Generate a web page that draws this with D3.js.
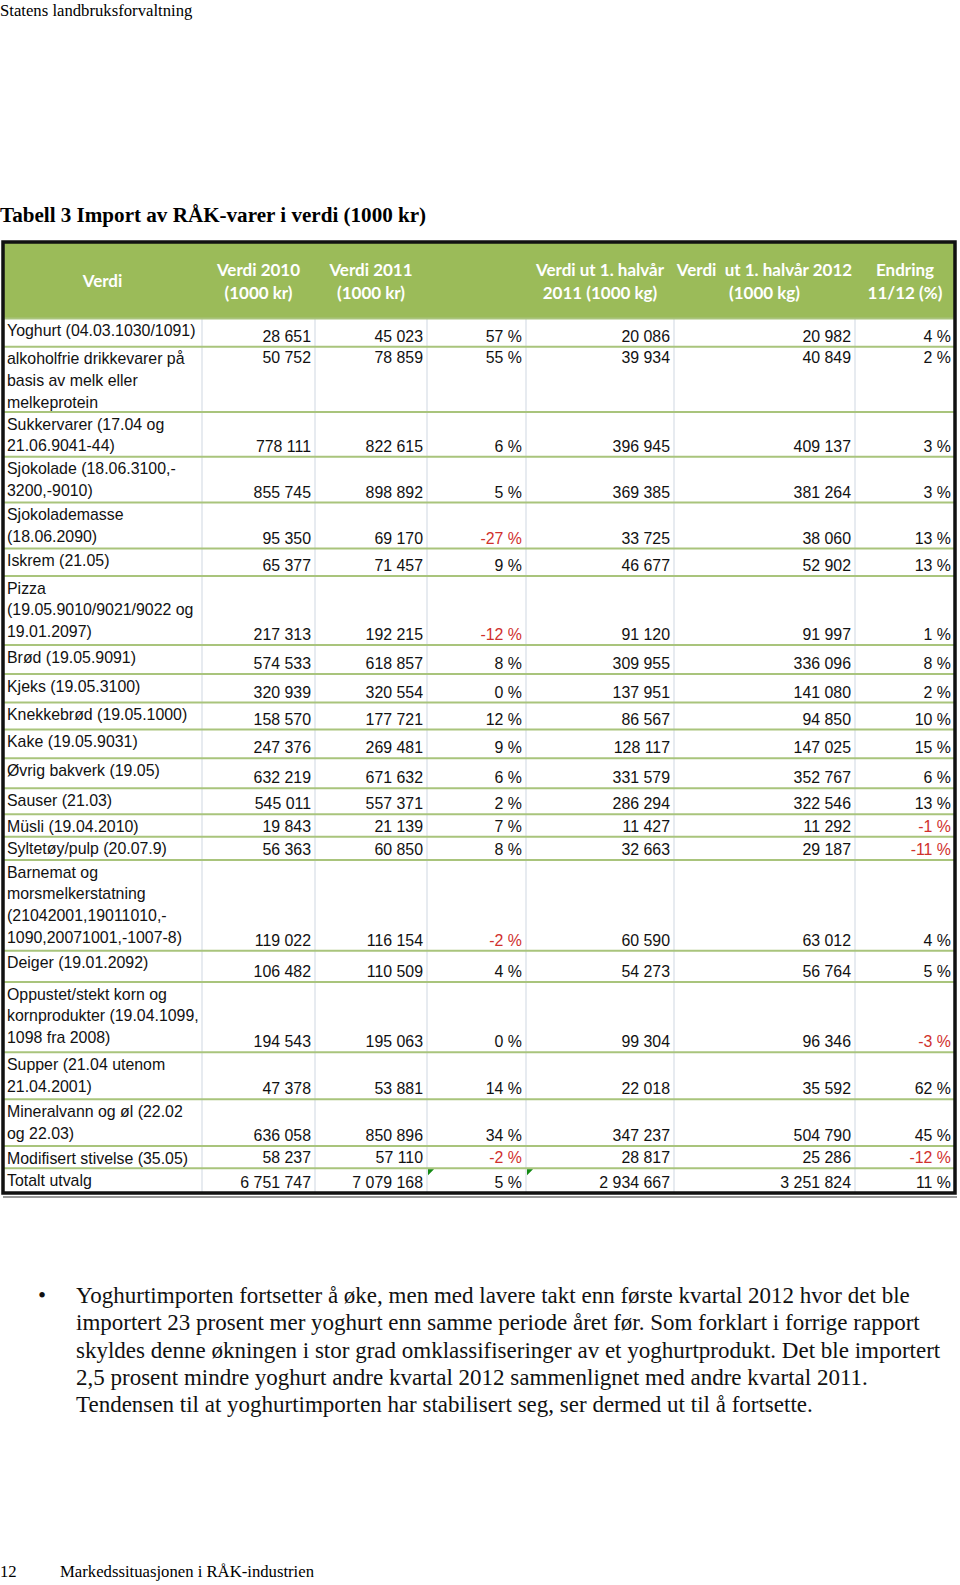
<!DOCTYPE html>
<html><head><meta charset="utf-8">
<script src="https://cdn.jsdelivr.net/npm/d3@7"></script>
<style>body{margin:0;background:#fff}svg{display:block}</style>
</head><body><script>
// ---------- DATA ----------
const pageHeader = "Statens landbruksforvaltning";
const title = "Tabell 3 Import av RÅK-varer i verdi (1000 kr)";
const headerLabels = [
  ["Verdi"],
  ["Verdi 2010", "(1000 kr)"],
  ["Verdi 2011", "(1000 kr)"],
  [],
  ["Verdi ut 1. halvår", "2011 (1000 kg)"],
  ["Verdi  ut 1. halvår 2012", "(1000 kg)"],
  ["Endring", "11/12 (%)"]
];
const categories = [
  ["Yoghurt (04.03.1030/1091)"],
  ["alkoholfrie drikkevarer på", "basis av melk eller", "melkeprotein"],
  ["Sukkervarer (17.04 og", "21.06.9041-44)"],
  ["Sjokolade (18.06.3100,-", "3200,-9010)"],
  ["Sjokolademasse", "(18.06.2090)"],
  ["Iskrem (21.05)"],
  ["Pizza", "(19.05.9010/9021/9022 og", "19.01.2097)"],
  ["Brød (19.05.9091)"],
  ["Kjeks (19.05.3100)"],
  ["Knekkebrød (19.05.1000)"],
  ["Kake (19.05.9031)"],
  ["Øvrig bakverk (19.05)"],
  ["Sauser (21.03)"],
  ["Müsli (19.04.2010)"],
  ["Syltetøy/pulp (20.07.9)"],
  ["Barnemat og", "morsmelkerstatning", "(21042001,19011010,-", "1090,20071001,-1007-8)"],
  ["Deiger (19.01.2092)"],
  ["Oppustet/stekt korn og", "kornprodukter (19.04.1099,", "1098 fra 2008)"],
  ["Supper (21.04 utenom", "21.04.2001)"],
  ["Mineralvann og øl (22.02", "og 22.03)"],
  ["Modifisert stivelse (35.05)"],
  ["Totalt utvalg"]
];
const verdi2010   = [28651, 50752, 778111, 855745, 95350, 65377, 217313, 574533, 320939, 158570, 247376, 632219, 545011, 19843, 56363, 119022, 106482, 194543, 47378, 636058, 58237, 6751747];
const verdi2011   = [45023, 78859, 822615, 898892, 69170, 71457, 192215, 618857, 320554, 177721, 269481, 671632, 557371, 21139, 60850, 116154, 110509, 195063, 53881, 850896, 57110, 7079168];
const endring1011 = [57, 55, 6, 5, -27, 9, -12, 8, 0, 12, 9, 6, 2, 7, 8, -2, 4, 0, 14, 34, -2, 5];
const halvaar2011 = [20086, 39934, 396945, 369385, 33725, 46677, 91120, 309955, 137951, 86567, 128117, 331579, 286294, 11427, 32663, 60590, 54273, 99304, 22018, 347237, 28817, 2934667];
const halvaar2012 = [20982, 40849, 409137, 381264, 38060, 52902, 91997, 336096, 141080, 94850, 147025, 352767, 322546, 11292, 29187, 63012, 56764, 96346, 35592, 504790, 25286, 3251824];
const endring1112 = [4, 2, 3, 3, 13, 13, 1, 8, 2, 10, 15, 6, 13, -1, -11, 4, 5, -3, 62, 45, -12, 11];
const paragraph = [
  "Yoghurtimporten fortsetter å øke, men med lavere takt enn første kvartal 2012 hvor det ble",
  "importert 23 prosent mer yoghurt enn samme periode året før. Som forklart i forrige rapport",
  "skyldes denne økningen i stor grad omklassifiseringer av et yoghurtprodukt. Det ble importert",
  "2,5 prosent mindre yoghurt andre kvartal 2012 sammenlignet med andre kvartal 2011.",
  "Tendensen til at yoghurtimporten har stabilisert seg, ser dermed ut til å fortsette."
];
const footerPage = "12";
const footerText = "Markedssituasjonen i RÅK-industrien";

// ---------- LAYOUT ----------
const W = 960, H = 1585;
const colKeys = ["label", "v2010", "v2011", "e1011", "h2011", "h2012", "e1112"];
const colEdges = [3, 202, 315, 427, 526, 674, 855, 955];
const rowHeights = [28.2, 65.3, 44.7, 45.8, 46, 27.5, 69, 29, 28.5, 27, 28.8, 30, 26, 22.4, 23.3, 90.7, 31.3, 70.3, 47, 46.7, 22.3, 24.7];
const tableTop = 243, headerBottom = 318.5;

const serif = "'Liberation Serif','Times New Roman',serif";
const sans = "'Liberation Sans',Arial,sans-serif";
const headFont = "Lato,'Open Sans',sans-serif";

const svg = d3.select("body").append("svg").attr("width", W).attr("height", H);
svg.append("rect").attr("width", W).attr("height", H).attr("fill", "#fff");

const xL = d3.scaleOrdinal().domain(colKeys).range(colEdges.slice(0, 7));
const xR = d3.scaleOrdinal().domain(colKeys).range(colEdges.slice(1));
const cum = Array.from(d3.cumsum([headerBottom, ...rowHeights]));
const yEdge = d3.scaleOrdinal().domain(d3.range(cum.length)).range(cum);
const tableBottom = yEdge(categories.length);

const nf = d3.formatLocale({decimal: ",", thousands: " ", grouping: [3], currency: ["", " kr"], minus: "-"}).format(",d");
const pf = v => nf(v) + " %";

// page header & title
svg.append("text").attr("x", 0).attr("y", 16).attr("font-family", serif).attr("font-size", 16.7).text(pageHeader);
svg.append("text").attr("x", 0).attr("y", 222).attr("font-family", serif).attr("font-weight", "bold").attr("font-size", 21.1).text(title);

// header background
svg.append("rect").attr("x", colEdges[0]).attr("y", tableTop).attr("width", colEdges[7] - colEdges[0]).attr("height", headerBottom - tableTop).attr("fill", "#9bbb59");

// header text
const hg = svg.append("g").attr("font-family", headFont).attr("font-weight", "bold").attr("font-size", 17).attr("fill", "#fff").attr("text-anchor", "middle");
headerLabels.forEach((lines, i) => {
  const k = colKeys[i];
  const cx = (xL(k) + xR(k)) / 2;
  const base = lines.length === 1 ? 287 : 276;
  lines.forEach((t, j) => {
    hg.append("text").attr("x", cx).attr("y", base + j * 22.5).attr("xml:space", "preserve").style("white-space", "pre").text(t);
  });
});

// vertical dividers
svg.append("g").selectAll("line").data(colKeys.slice(1)).join("line")
  .attr("x1", d => xL(d)).attr("x2", d => xL(d))
  .attr("y1", headerBottom).attr("y2", tableBottom)
  .attr("stroke", "#cfd7e1").attr("stroke-width", 1);

// horizontal row separators
svg.append("g").selectAll("line").data(d3.range(0, categories.length)).join("line")
  .attr("x1", colEdges[0]).attr("x2", colEdges[7])
  .attr("y1", d => yEdge(d)).attr("y2", d => yEdge(d))
  .attr("stroke", "#a9c47c").attr("stroke-width", 2);

// rows
const rows = categories.map((lab, i) => ({
  i, lab,
  vals: [verdi2010[i], verdi2011[i], endring1011[i], halvaar2011[i], halvaar2012[i], endring1112[i]]
}));
const rg = svg.append("g").attr("font-family", sans).attr("font-size", 15.9).attr("fill", "#111");
rows.forEach(r => {
  const top = yEdge(r.i), bot = yEdge(r.i + 1);
  r.lab.forEach((t, j) => {
    rg.append("text").attr("x", colEdges[0] + 4).attr("y", top + 17.5 + j * 21.7).text(t);
  });
  const topAligned = r.i === 1;
  r.vals.forEach((v, c) => {
    const k = colKeys[c + 1];
    const isPct = (c === 2 || c === 5);
    rg.append("text")
      .attr("x", xR(k) - 4)
      .attr("y", topAligned ? top + 16.5 : bot - 5)
      .attr("text-anchor", "end")
      .attr("fill", isPct && v < 0 ? "#d0312d" : "#111")
      .text(isPct ? pf(v) : nf(v));
  });
});

// small green error-indicator triangles in total row
const lastTop = yEdge(categories.length - 1);
["e1011", "h2011"].forEach(k => {
  const x0 = xL(k) + 1, y0 = lastTop + 1;
  svg.append("path").attr("d", `M${x0},${y0}L${x0 + 6},${y0}L${x0},${y0 + 6}Z`).attr("fill", "#138a13");
});

// outer border
svg.append("rect").attr("x", colEdges[0]).attr("y", tableTop - 1).attr("width", colEdges[7] - colEdges[0]).attr("height", tableBottom - tableTop + 1)
  .attr("fill", "none").attr("stroke", "#111").attr("stroke-width", 3.5);
svg.append("line").attr("x1", colEdges[0]).attr("x2", colEdges[7] + 2).attr("y1", tableBottom + 4).attr("y2", tableBottom + 4).attr("stroke", "#777").attr("stroke-width", 1.5);

// paragraph
const pg = svg.append("g").attr("font-family", serif).attr("font-size", 23).attr("fill", "#111");
pg.append("text").attr("x", 38).attr("y", 1303).text("•");
paragraph.forEach((t, j) => pg.append("text").attr("x", 76).attr("y", 1303 + j * 27.3).text(t));

// footer
svg.append("text").attr("x", 0).attr("y", 1577).attr("font-family", serif).attr("font-size", 16.7).text(footerPage);
svg.append("text").attr("x", 60).attr("y", 1577).attr("font-family", serif).attr("font-size", 16.7).text(footerText);
</script></body></html>
